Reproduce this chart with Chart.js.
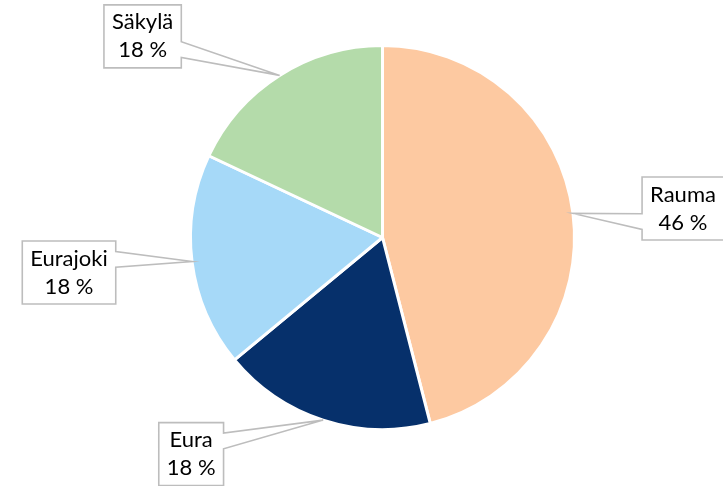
<!DOCTYPE html>
<html>
<head>
<meta charset="utf-8">
<script src="https://cdn.jsdelivr.net/npm/chart.js@4/dist/chart.umd.min.js"></script>
<style>
  html, body { margin: 0; padding: 0; background: #ffffff; }
  #wrap { width: 723px; height: 486px; }
</style>
</head>
<body>
<div id="wrap"><canvas id="pie" width="723" height="486"></canvas></div>
<script>
// Share of each municipality (per cent)
const municipalities = ['Rauma', 'Eura', 'Eurajoki', 'Säkylä'];
const shares = [46, 18, 18, 18];
const sliceColors = ['#FDC9A1', '#06306B', '#A6D9F8', '#B4DBAA'];

// Callout box placement relative to the slice's outer mid-point
const calloutOffsets = [
  { dx: 110, dy: -5 },    // Rauma
  { dx: -132, dy: 34 },   // Eura
  { dx: -123, dy: 11 },   // Eurajoki
  { dx: -137, dy: -39 }   // Säkylä
];

const FONT = '22px Lato, "Open Sans", sans-serif';
const LINE_GAP = 28;
const PAD_X = 8;
const BOX_H = 63;

// Rectangular callouts with a wedge pointing at each slice
const calloutPlugin = {
  id: 'callouts',
  afterDatasetsDraw(chart) {
    const ctx = chart.ctx;
    const meta = chart.getDatasetMeta(0);
    const total = shares.reduce((a, b) => a + b, 0);
    ctx.save();
    ctx.font = FONT;
    meta.data.forEach((arc, i) => {
      const p = arc.getProps(['x', 'y', 'startAngle', 'endAngle', 'outerRadius'], true);
      const mid = (p.startAngle + p.endAngle) / 2;
      const tipX = p.x + Math.cos(mid) * p.outerRadius;
      const tipY = p.y + Math.sin(mid) * p.outerRadius;

      const line1 = municipalities[i];
      const line2 = Math.round(shares[i] / total * 100) + ' %';
      const w = Math.max(ctx.measureText(line1).width, ctx.measureText(line2).width) + PAD_X * 2;
      const h = BOX_H;
      const cx = tipX + calloutOffsets[i].dx;
      const cy = tipY + calloutOffsets[i].dy;
      const L = cx - w / 2, R = cx + w / 2, T = cy - h / 2, B = cy + h / 2;

      const below = tipY > cy;
      const b1 = T + h * (below ? 7 : 2) / 12;
      const b2 = T + h * (below ? 10 : 5) / 12;

      ctx.beginPath();
      if (tipX > cx) {
        ctx.moveTo(L, T);
        ctx.lineTo(R, T);
        ctx.lineTo(R, b1);
        ctx.lineTo(tipX, tipY);
        ctx.lineTo(R, b2);
        ctx.lineTo(R, B);
        ctx.lineTo(L, B);
      } else {
        ctx.moveTo(L, T);
        ctx.lineTo(R, T);
        ctx.lineTo(R, B);
        ctx.lineTo(L, B);
        ctx.lineTo(L, b2);
        ctx.lineTo(tipX, tipY);
        ctx.lineTo(L, b1);
      }
      ctx.closePath();
      ctx.fillStyle = '#ffffff';
      ctx.fill();
      ctx.lineWidth = 1.6;
      ctx.strokeStyle = '#BDBDBD';
      ctx.lineJoin = 'miter';
      ctx.stroke();

      ctx.fillStyle = '#000000';
      ctx.textAlign = 'center';
      ctx.textBaseline = 'middle';
      ctx.fillText(line1, cx, cy - LINE_GAP / 2);
      ctx.fillText(line2, cx, cy + LINE_GAP / 2);
    });
    ctx.restore();
  }
};

new Chart(document.getElementById('pie'), {
  type: 'pie',
  data: {
    labels: municipalities,
    datasets: [{
      data: shares,
      backgroundColor: sliceColors,
      borderColor: '#ffffff',
      borderWidth: 3
    }]
  },
  options: {
    responsive: false,
    animation: false,
    radius: 192,
    layout: { padding: { left: 42, right: 0, top: 0, bottom: 11 } },
    plugins: {
      legend: { display: false },
      tooltip: { enabled: false }
    }
  },
  plugins: [calloutPlugin]
});
</script>
</body>
</html>
